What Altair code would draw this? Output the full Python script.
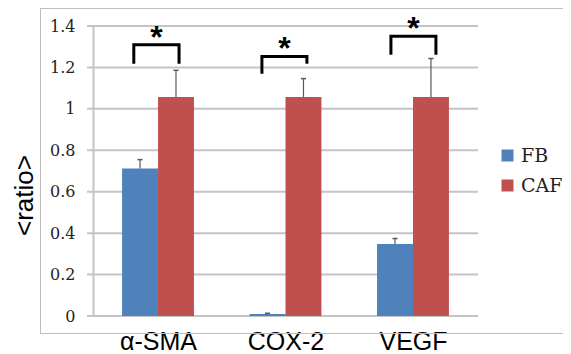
import altair as alt
import pandas as pd

categories = ["α-SMA", "COX-2", "VEGF"]
series_names = ["FB", "CAF"]
fb_values = [0.712, 0.010, 0.347]
caf_values = [1.057, 1.057, 1.057]
fb_err_top = [0.755, 0.013, 0.374]
caf_err_top = [1.186, 1.146, 1.243]
y_ticks = [0, 0.2, 0.4, 0.6, 0.8, 1.0, 1.2, 1.4]

bracket_left = [-0.19, -0.185, -0.173]
bracket_right = [0.165, 0.168, 0.18]
bracket_top = [1.309, 1.253, 1.351]
bracket_left_bottom = [1.218, 1.170, 1.261]
bracket_right_bottom = [1.218, 1.218, 1.261]
star_labels = ["*", "*", "*"]

bar_w = 0.282
colors = ["#4F81BD", "#C0504D"]

bar_rows, err_rows, br_rows, star_rows = [], [], [], []
for i, c in enumerate(categories):
    for s, vals, errs, off in (("FB", fb_values, fb_err_top, -bar_w), ("CAF", caf_values, caf_err_top, 0.0)):
        x0 = i + off
        bar_rows.append({"cat": c, "series": s, "x0": x0, "x1": x0 + bar_w, "value": vals[i], "base": 0.0})
        xc = x0 + bar_w / 2
        err_rows.append({"xc": xc, "cl": xc - 0.02, "cr": xc + 0.02, "v": vals[i], "top": errs[i]})
    pts = [(i + bracket_left[i], bracket_left_bottom[i]), (i + bracket_left[i], bracket_top[i]),
           (i + bracket_right[i], bracket_top[i]), (i + bracket_right[i], bracket_right_bottom[i])]
    for k, (px, py) in enumerate(pts):
        br_rows.append({"grp": c, "ord": k, "bx": px, "by": py})
    star_rows.append({"sx": i + (bracket_left[i] + bracket_right[i]) / 2, "sy": bracket_top[i], "t": star_labels[i]})

x_lo, x_hi = -0.51, 2.51
grid_rows = []
for j, v in enumerate(y_ticks):
    grid_rows.append({"gid": "g%d" % j, "ord": 0, "gx": x_lo - 0.047, "gy": float(v)})
    grid_rows.append({"gid": "g%d" % j, "ord": 1, "gx": x_hi, "gy": float(v)})

bars_df = pd.DataFrame(bar_rows)
err_df = pd.DataFrame(err_rows)
br_df = pd.DataFrame(br_rows)
star_df = pd.DataFrame(star_rows)
grid_df = pd.DataFrame(grid_rows)

W, H = 385, 290
xscale = alt.Scale(domain=[x_lo, x_hi], nice=False, zero=False)
yscale = alt.Scale(domain=[0, 1.4], nice=False)

label_expr = "datum.value == 0 ? '" + categories[0] + "' : datum.value == 1 ? '" + categories[1] + "' : '" + categories[2] + "'"

x_axis = alt.Axis(values=[0, 1, 2], labelExpr=label_expr, title=None, grid=False, domain=False,
                  ticks=False, labelFont="Liberation Sans", labelFontSize=25, labelColor="black",
                  labelPadding=13, labelBaseline="top")
y_axis = alt.Axis(values=y_ticks, format=".1~f", title="<ratio>",
                  grid=False, domain=True, domainColor="#c4c4c4",
                  domainWidth=2, ticks=False,
                  labelFont="DejaVu Serif", labelFontSize=16, labelColor="#222222", labelPadding=18,
                  titleFont="Liberation Sans", titleFontSize=26, titleFontWeight="normal",
                  titleColor="black", titleAngle=270, titleX=-69, titleY=169,
                  titleAlign="center", titleBaseline="middle")

X = lambda f: alt.X(f, scale=xscale, axis=x_axis)
Y = lambda f: alt.Y(f, scale=yscale, axis=y_axis)

grid = alt.Chart(grid_df).mark_line(color="#c4c4c4", strokeWidth=2, clip=False).encode(
    x=X("gx:Q"), y=Y("gy:Q"), detail="gid:N", order="ord:Q")

bars = alt.Chart(bars_df).mark_bar(stroke=None).encode(
    x=X("x0:Q"),
    x2="x1:Q",
    y=Y("value:Q"),
    y2="base:Q",
    color=alt.Color("series:N", scale=alt.Scale(domain=series_names, range=colors),
                    legend=alt.Legend(title=None, orient="none", legendX=405, legendY=120,
                                      symbolType="square", symbolSize=144, symbolStrokeWidth=0,
                                      labelFont="DejaVu Serif", labelFontSize=19, labelColor="#222222",
                                      rowPadding=10, labelOffset=4, padding=0)),
)

err = alt.Chart(err_df).mark_rule(color="#595959", strokeWidth=1.2).encode(
    x=X("xc:Q"), y=Y("v:Q"), y2="top:Q")
caps = alt.Chart(err_df).mark_rule(color="#595959", strokeWidth=1.5).encode(
    x=X("cl:Q"), x2="cr:Q", y=Y("top:Q"))

brackets = alt.Chart(br_df).mark_line(color="black", strokeWidth=3, strokeJoin="miter", strokeCap="butt").encode(
    x=X("bx:Q"), y=Y("by:Q"), detail="grp:N", order="ord:Q")

stars = alt.Chart(star_df).mark_text(font="Liberation Sans", fontSize=32, fontWeight="bold",
                                     color="black", baseline="alphabetic", dy=3).encode(
    x=X("sx:Q"), y=Y("sy:Q"), text="t:N")

one = alt.Data(values=[{"a": 1}])
frame_top = alt.Chart(one).mark_rule(color="#bdbdbd", strokeWidth=1).encode(
    x=alt.value(-53), x2=alt.value(470), y=alt.value(-17.5))
frame_left = alt.Chart(one).mark_rule(color="#bdbdbd", strokeWidth=1).encode(
    x=alt.value(-52.5), y=alt.value(-17.5), y2=alt.value(307.5))
frame_bottom = alt.Chart(one).mark_rule(color="#bdbdbd", strokeWidth=1).encode(
    x=alt.value(-53), x2=alt.value(470), y=alt.value(307.5))

chart = alt.layer(frame_top, frame_left, frame_bottom, grid, bars, err, caps, brackets, stars).properties(
    width=W, height=H,
    autosize=alt.AutoSizeParams(type="none"),
    padding={"left": 85, "top": 18, "right": 85, "bottom": 38},
).configure_view(stroke=None)

chart.save("out.html", embed_options={"renderer": "svg", "actions": False})
